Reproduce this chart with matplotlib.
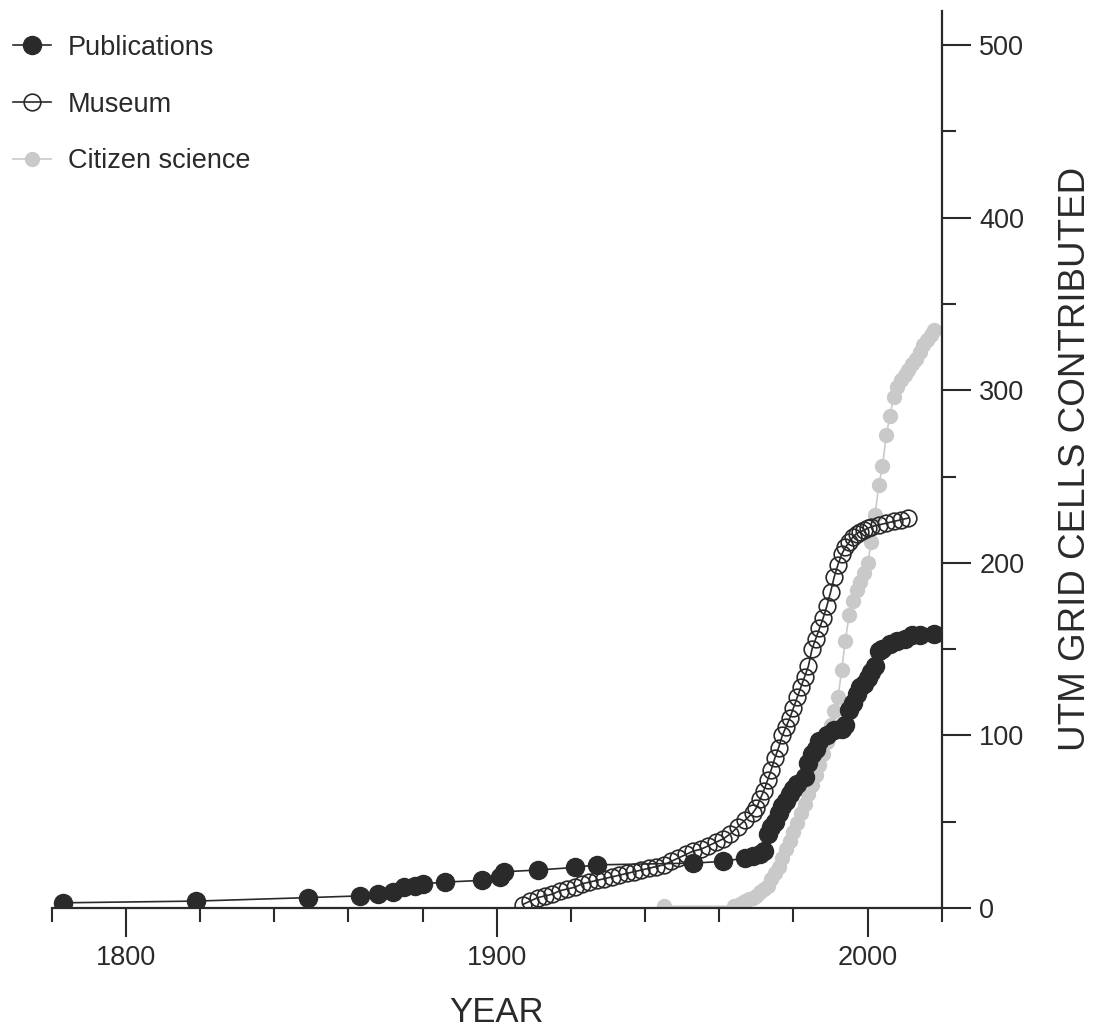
import matplotlib
matplotlib.use("Agg")
import matplotlib.pyplot as plt
from matplotlib.ticker import MultipleLocator

plt.rcParams['font.family'] = ['Liberation Sans', 'DejaVu Sans']

# cumulative UTM grid cells contributed
pub_year = [1783, 1819, 1849, 1863, 1868, 1872, 1875, 1878, 1880, 1886,
            1896, 1901, 1902, 1911, 1921, 1927, 1953, 1961, 1967, 1969,
            1971, 1972, 1973, 1974, 1975, 1976, 1977, 1978, 1979, 1980,
            1981, 1983, 1984, 1985, 1986, 1987, 1989, 1991, 1993, 1994,
            1995, 1996, 1997, 1998, 1999, 2000, 2001, 2002, 2003, 2004,
            2006, 2008, 2010, 2012, 2014, 2018]
pub_cells = [3, 4, 6, 7, 8, 9, 12, 12.5, 14, 15,
             16, 18, 21, 22, 23.5, 25, 26, 27, 29, 30,
             31, 33, 43, 47, 50, 55, 59, 62, 66, 69,
             72, 76, 84, 89, 92, 97, 100, 103, 104, 106,
             115, 119, 124, 128, 130, 133, 137, 140, 149, 150,
             153, 155, 156, 158, 158, 159]

mus_year = [1907, 1909, 1911, 1913, 1915, 1917, 1919, 1921, 1923, 1925,
            1927, 1929, 1931, 1933, 1935, 1937, 1939, 1941, 1943, 1945,
            1947, 1949, 1951, 1953, 1955, 1957, 1959, 1961, 1963, 1965,
            1967, 1969, 1970, 1971, 1972, 1973, 1974, 1975, 1976, 1977,
            1978, 1979, 1980, 1981, 1982, 1983, 1984, 1985, 1986, 1987,
            1988, 1989, 1990, 1991, 1992, 1993, 1994, 1995, 1996, 1997,
            1998, 1999, 2000, 2001, 2003, 2005, 2007, 2009, 2011]
mus_cells = [2, 4, 6, 7, 8, 10, 11, 12, 14, 15,
             16, 17, 18, 19, 20, 21, 22, 23, 24, 25,
             27, 29, 31, 33, 34, 36, 38, 40, 43, 47,
             51, 55, 58, 63, 68, 74, 80, 87, 93, 100,
             105, 110, 116, 122, 128, 134, 140, 150, 156, 162,
             168, 175, 183, 192, 199, 205, 209, 212, 215, 217,
             218, 219, 220, 221, 222, 223, 224, 225, 226]

cit_year = [1945, 1964, 1965, 1966, 1967, 1968, 1969, 1970, 1971, 1972,
            1973, 1974, 1975, 1976, 1977, 1978, 1979, 1980, 1981, 1982,
            1983, 1984, 1985, 1986, 1987, 1988, 1989, 1990, 1991, 1992,
            1993, 1994, 1995, 1996, 1997, 1998, 1999, 2000, 2001, 2002,
            2003, 2004, 2005, 2006, 2007, 2008, 2009, 2010, 2011, 2012,
            2013, 2014, 2015, 2016, 2017, 2018]
cit_cells = [1, 1, 2, 3, 4, 5, 6, 7, 9, 11,
             13, 17, 20, 24, 29, 34, 39, 44, 49, 55,
             60, 66, 71, 77, 83, 89, 96, 106, 114, 122,
             138, 155, 170, 178, 184, 189, 194, 200, 212, 228,
             245, 256, 274, 285, 296, 302, 306, 309, 312, 315,
             318, 322, 326, 329, 332, 335]

fig = plt.figure(figsize=(10.99, 10.29), dpi=100)
ax = fig.add_axes([0.047, 0.1176, 0.81, 0.872])

ax.plot(cit_year, cit_cells, color="#c9c9c9", lw=1.2, marker="o",
        ms=10, mec="#c9c9c9", mfc="#c9c9c9", label="Citizen science", zorder=2)
ax.plot(mus_year, mus_cells, color="#2a2a2a", lw=1.2, marker="o",
        ms=12, mec="#2a2a2a", mfc="none", mew=1.2, label="Museum", zorder=3)
ax.plot(pub_year, pub_cells, color="#2a2a2a", lw=1.2, marker="o",
        ms=13, mec="#2a2a2a", mfc="#2a2a2a", label="Publications", zorder=4)

ax.set_xlim(1780, 2020)
ax.set_ylim(0, 520)

for s in ("left", "top"):
    ax.spines[s].set_visible(False)
for s in ("right", "bottom"):
    ax.spines[s].set_linewidth(1.6)
    ax.spines[s].set_color("#2a2a2a")

ax.yaxis.tick_right()
ax.yaxis.set_label_position("right")
ax.xaxis.set_major_locator(MultipleLocator(100))
ax.xaxis.set_minor_locator(MultipleLocator(20))
ax.yaxis.set_major_locator(MultipleLocator(100))
ax.yaxis.set_minor_locator(MultipleLocator(50))
ax.tick_params(which="major", length=21, width=1.5, color="#2a2a2a",
               labelsize=19.5, labelcolor="#2a2a2a", pad=6)
ax.tick_params(which="minor", length=10, width=1.5, color="#2a2a2a")
ax.set_yticks([0, 100, 200, 300, 400, 500])

ax.set_xlabel("YEAR", fontsize=25, color="#2a2a2a", labelpad=18)
ax.set_ylabel("UTM GRID CELLS CONTRIBUTED", fontsize=26.5, color="#2a2a2a",
              labelpad=24)

handles, labels = ax.get_legend_handles_labels()
fig.legend(handles[::-1], labels[::-1], loc="upper left",
           bbox_to_anchor=(-0.01, 0.99), frameon=False, fontsize=19.5,
           handlelength=1.4, handletextpad=0.6, labelspacing=1.14,
           labelcolor="#2a2a2a")

fig.savefig("out.png", dpi=100)
